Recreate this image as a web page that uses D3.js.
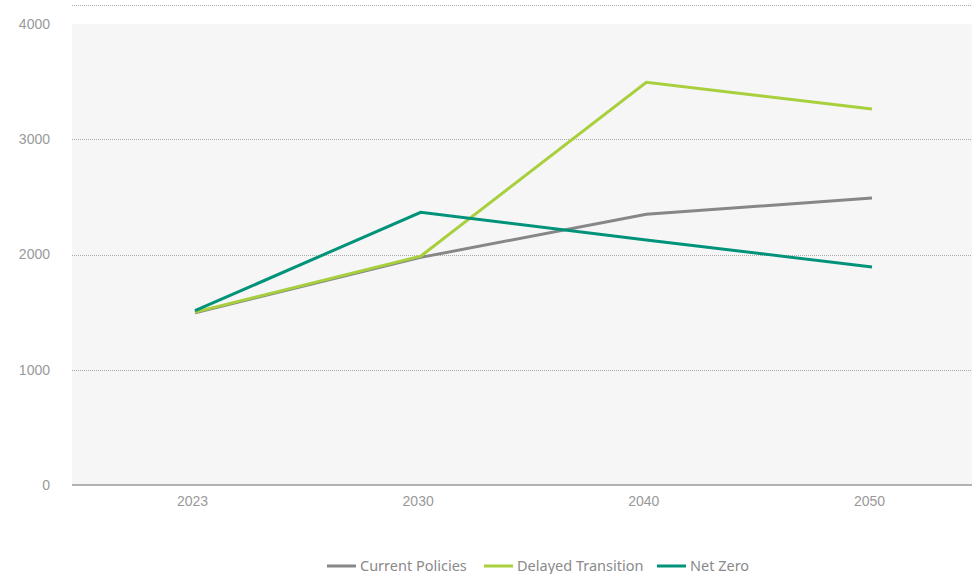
<!DOCTYPE html>
<html><head><meta charset="utf-8">
<script src="https://cdn.jsdelivr.net/npm/d3@7"></script>
<style>body{margin:0;background:#fff;}svg{display:block;font-family:"Source Sans Pro","Noto Sans",sans-serif;}</style>
</head><body>
<svg id="c" width="979" height="574"></svg>
<script>
const categories = ["2023","2030","2040","2050"];
const currentPolicies = [1495, 1975, 2350, 2490];
const delayedTransition = [1500, 1985, 3495, 3262];
const netZero = [1512, 2366, 2125, 1892];
const yTicks = [0, 1000, 2000, 3000, 4000];
const seriesNames = ["Current Policies","Delayed Transition","Net Zero"];
const seriesColors = ["#878787","#a8cf3c","#00937a"];
const series = [currentPolicies, delayedTransition, netZero];

const svg = d3.select("#c");
const plotL = 72, plotR = 972, plotT = 24, plotB = 485;
const x = d3.scalePoint().domain(categories).range([195, 872]);
const y = d3.scaleLinear().domain([0, 4000]).range([plotB, plotT]);

svg.append("rect").attr("x", plotL).attr("y", plotT).attr("width", plotR-plotL).attr("height", plotB-plotT).attr("fill", "#f6f6f6");
// top dotted border
svg.append("line").attr("x1", plotL).attr("x2", plotR).attr("y1", 5.5).attr("y2", 5.5)
  .attr("stroke", "#aaa").attr("stroke-width", 1).attr("stroke-dasharray", "1,1");

// grid
svg.append("g").selectAll("line").data(yTicks.filter(t => t > 0 && t < 4000)).join("line")
  .attr("x1", plotL).attr("x2", plotR)
  .attr("y1", d => Math.round(y(d)) + 0.5).attr("y2", d => Math.round(y(d)) + 0.5)
  .attr("stroke", "#aaa").attr("stroke-width", 1).attr("stroke-dasharray", "1,1");

// y labels
const yAxis = d3.axisLeft(y).tickValues(yTicks).tickFormat(d3.format("d")).tickSize(0).tickPadding(0);
const gy = svg.append("g").attr("transform", `translate(50,0)`).call(yAxis);
gy.select(".domain").remove();
gy.selectAll("text").attr("fill", "#999").attr("font-size", 14).attr("dy", "0.32em");

// x axis
const xAxis = d3.axisBottom(x).tickSize(0).tickPadding(11);
const gx = svg.append("g").attr("transform", `translate(0,${plotB})`).call(xAxis);
gx.select(".domain").remove();
gx.selectAll("text").attr("fill", "#999").attr("font-size", 14).attr("dx", "-3");
svg.append("line").attr("x1", plotL).attr("x2", plotR).attr("y1", plotB).attr("y2", plotB)
  .attr("stroke", "#999").attr("stroke-width", 1.5);

// lines
const line = d3.line().x((d, i) => x(categories[i])).y(d => y(d));
series.forEach((s, i) => {
  svg.append("path").datum(s).attr("d", line).attr("fill", "none")
    .attr("stroke", seriesColors[i]).attr("stroke-width", 3).attr("stroke-linejoin", "miter");
});

// legend
const legendX = [327, 484, 657];
const lg = svg.append("g");
seriesNames.forEach((n, i) => {
  lg.append("line").attr("x1", legendX[i]).attr("x2", legendX[i] + 29).attr("y1", 566).attr("y2", 566)
    .attr("stroke", seriesColors[i]).attr("stroke-width", 3);
  lg.append("text").attr("x", legendX[i] + 33).attr("y", 566).attr("dy", "0.35em")
    .attr("fill", "#8a8a8a").attr("font-size", 14.5).text(n);
});
</script>
</body></html>
